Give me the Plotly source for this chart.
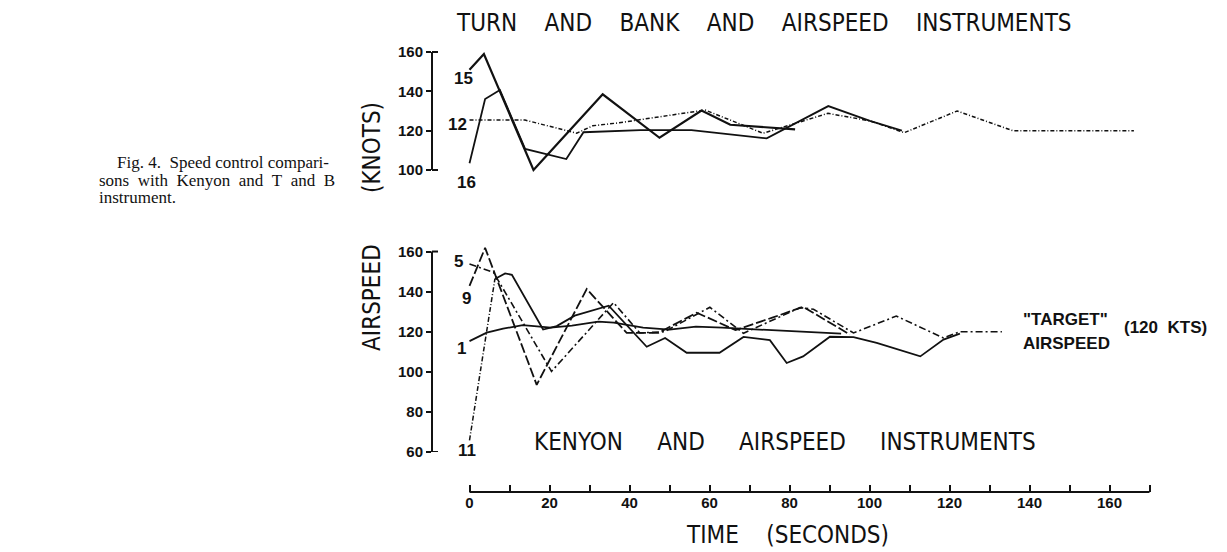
import plotly.graph_objects as go

# ---------------- data ----------------
# Top panel: Turn and Bank and airspeed instruments (time s, airspeed kts)
t15 = [0, 3.6, 16.0, 33.3, 47.5, 58.0, 65.2, 81.4]
v15 = [151, 159, 100, 138.5, 116.4, 130.2, 123, 120.7]

t16 = [0, 3.9, 7.6, 13.9, 24.2, 28.5, 42.7, 55.5, 74.3, 89.7, 100.1, 108.1]
v16 = [103.4, 136.1, 140.7, 110.7, 105.6, 119.2, 120.3, 120.3, 116.1, 132.5, 125, 120]

t12 = [0, 13.9, 26.8, 30.8, 37.4, 58.9, 73.4, 89.6, 100.1, 108.7, 121.9, 135.8, 166.1]
v12 = [125.4, 125.4, 118.7, 122.5, 124.0, 130.5, 118.7, 128.8, 125, 119, 130, 120, 120]

# Bottom panel: Kenyon and airspeed instruments
t5 = [0, 6.0, 20.5, 36.0, 42.6, 48.7, 60.1, 68.5, 82.6, 86.0, 96.0, 106.7, 118.5, 122.6, 133.1]
v5 = [153.8, 149.6, 100.2, 134.5, 119.4, 120, 132.2, 119.2, 132, 131.2, 119.4, 127.8, 116.9, 120, 120]

t9 = [0, 3.9, 16.8, 29.3, 39.3, 47.2, 56.8, 66.5, 75.7, 83.4, 95.1]
v9 = [142.9, 161.8, 93.5, 141.3, 119.4, 119.4, 129.5, 120.8, 127, 132.4, 118.6]

t1 = [0, 4.3, 8.4, 13.3, 17.6, 20.3, 25.6, 32.2, 36.1, 43.4, 50.0, 56.6, 63.2, 72.4, 81.7, 92.9]
v1 = [115.3, 119.5, 121.5, 123.3, 122.5, 122, 123, 125, 124.5, 122, 121, 122.5, 122, 121, 120, 119]

t11 = [0, 6.35, 8.9, 10.6, 12.6, 18.4, 21.8, 26.3, 34.8, 44.3, 48.9, 54.3, 62.5, 68.5, 75.1,
       79.3, 83.4, 90.1, 96.0, 101.8, 112.7, 118.5, 122.6]
v11 = [65.8, 146.3, 149.1, 148.4, 141.3, 121.1, 122.8, 128, 133, 112.5, 116.9, 109.5, 109.5,
       117.4, 115.8, 104.4, 107.7, 117.5, 117.3, 114.4, 107.7, 116.1, 119]

time_ticks = list(range(0, 171, 10))
time_labels = [str(v) if v % 20 == 0 else "" for v in time_ticks]
top_ticks = [100, 120, 140, 160]
bot_ticks = [60, 80, 100, 120, 140, 160]

# ---------------- layout helpers (targets given in screenshot pixels) ----------------
OFF = 8                            # default page body margin
FW, FH = 1219, 544
SL, SR, ST, SB = 432, 1211, 38, 492   # plot-area edges on screen
L, R, T, B = SL - OFF, FW - (SR - OFF), ST - OFF, FH - (SB - OFF)
PW, PH = FW - L - R, FH - T - B
X0PX, XSCALE = 469.5, 4.0          # screen pixel of t=0, px per second


def py(ys):
    return (SB - ys) / PH


def pxf(xs):
    return (xs - SL) / PW


xr = [(SL - X0PX) / XSCALE, (SR - X0PX) / XSCALE]
TOP_SC, BOT_SC = 1.967, 2.0        # px per knot
top_dom_px = (40, 190)
bot_dom_px = (240, 452)
top_range = [160 - (top_dom_px[1] - 52) / TOP_SC, 160 + (52 - top_dom_px[0]) / TOP_SC]
bot_range = [60, 160 + (251.5 - bot_dom_px[0]) / BOT_SC]

INK = "#111111"
TITLE_FONT = dict(family="DejaVu Sans Condensed, Liberation Sans Narrow, sans-serif", size=24, color=INK)
TICK_FONT = dict(family="Liberation Sans, Arial, sans-serif", size=15, color=INK, weight="bold")
LBL_FONT = dict(family="Liberation Sans, Arial, sans-serif", size=17, color=INK, weight="bold")
TGT_FONT = dict(family="Liberation Sans, Arial, sans-serif", size=17, color=INK, weight="bold")

fig = go.Figure()


def add(t, v, ax, dash, width):
    xa, ya = ("x2", "y2") if ax == "top" else ("x", "y")
    fig.add_trace(go.Scatter(x=t, y=v, xaxis=xa, yaxis=ya, mode="lines",
                             line=dict(color=INK, width=width, dash=dash),
                             hoverinfo="skip", showlegend=False))


add(t15, v15, "top", "solid", 2.2)
add(t16, v16, "top", "solid", 1.8)
add(t12, v12, "top", "4px,2px,1px,2px", 1.5)

add(t1, v1, "bot", "solid", 1.8)
add(t11[:2], v11[:2], "bot", "5px,2px,1px,2px", 1.5)
add(t11[1:], v11[1:], "bot", "solid", 1.8)
add(t9, v9, "bot", "10px,3px", 1.8)
add(t5, v5, "bot", "7px,3px,2px,3px", 1.6)

fig.update_layout(
    width=FW, height=FH, margin=dict(l=L, r=R, t=T, b=B),
    paper_bgcolor="white", plot_bgcolor="white", showlegend=False,
    xaxis=dict(range=xr, anchor="free", position=0, showline=False, showgrid=False,
               zeroline=False, ticks="inside", ticklen=7, tickwidth=1.5, tickcolor=INK,
               tickvals=time_ticks, ticktext=time_labels, tickfont=TICK_FONT),
    xaxis2=dict(range=xr, anchor="y2", matches="x", visible=False),
    yaxis=dict(domain=[py(bot_dom_px[1]), py(bot_dom_px[0])], range=bot_range, anchor="x",
               showline=False, showgrid=False, zeroline=False, ticks="outside", ticklen=5,
               tickwidth=2, tickcolor=INK, tickvals=bot_ticks, tickfont=TICK_FONT),
    yaxis2=dict(domain=[py(top_dom_px[1]), py(top_dom_px[0])], range=top_range, anchor="x2",
                showline=False, showgrid=False, zeroline=False, ticks="outside", ticklen=5,
                tickwidth=2, tickcolor=INK, tickvals=top_ticks, tickfont=TICK_FONT),
)

shapes = []
# y-axis spines with corner ends
for yref, lo, hi in (("y2", top_ticks[0], top_ticks[-1]), ("y", bot_ticks[0], bot_ticks[-1])):
    shapes.append(dict(type="line", xref="paper", yref=yref, x0=0, x1=0, y0=lo, y1=hi,
                       line=dict(color=INK, width=2)))
    for yy in (lo, hi):
        shapes.append(dict(type="line", xref="paper", yref=yref, x0=0, x1=pxf(SL + 6), y0=yy, y1=yy,
                           line=dict(color=INK, width=2)))
# time axis spine
shapes.append(dict(type="line", xref="x", yref="paper", x0=time_ticks[0], x1=time_ticks[-1],
                   y0=0, y1=0, line=dict(color=INK, width=2)))
fig.update_layout(shapes=shapes)

ann = []


def label(text, t, v, ax, xs, ys):
    ann.append(dict(text=text, x=t, y=v, xref="x2" if ax == "top" else "x",
                    yref="y2" if ax == "top" else "y", xshift=xs, yshift=ys,
                    xanchor="center", yanchor="middle", showarrow=False, font=LBL_FONT))


label("15", t15[0], v15[0], "top", -6, -9)
label("12", t12[0], v12[0], "top", -12, -4)
label("16", t16[0], v16[0], "top", -3, -19)
label("5", t5[0], v5[0], "bot", -11, 2)
label("9", t9[0], v9[0], "bot", -3, -13)
label("1", t1[0], v1[0], "bot", -8, -7)
label("11", t11[0], v11[0], "bot", -3, -10)


def text(s, xs, ys, font, xa="center", angle=0):
    ann.append(dict(text=s, x=pxf(xs), y=py(ys), xref="paper", yref="paper", xanchor=xa,
                    yanchor="middle", showarrow=False, textangle=angle, font=font))


NB = "\u00a0"
G = NB * 4
G5 = NB * 5
text(f"TURN{G}AND{G}BANK{G}AND{G}AIRSPEED{G}INSTRUMENTS", 764, 23, TITLE_FONT)
text(f"KENYON{G5}AND{G5}AIRSPEED{G5}INSTRUMENTS", 785, 442, TITLE_FONT)
text(f"TIME{G}(SECONDS)", 787, 535, TITLE_FONT)
text("(KNOTS)", 372, 148, TITLE_FONT, angle=-90)
text("AIRSPEED", 372, 298, TITLE_FONT, angle=-90)
text("\"TARGET\"", 1021, 319, TGT_FONT, xa="left")
text("AIRSPEED", 1021, 343, TGT_FONT, xa="left")
text(f"(120{NB*2}KTS)", 1122, 327, TGT_FONT, xa="left")

CAP = dict(family="Liberation Serif, Times New Roman, serif", size=17, color=INK)
text("Fig. 4.  Speed control compari-", 115, 162, CAP, xa="left")
text(f"sons{NB*2}with{NB*2}Kenyon{NB*2}and{NB*2}T{NB*2}and{NB*2}B", 97, 180, CAP, xa="left")
text("instrument.", 97, 198, CAP, xa="left")
fig.update_layout(annotations=ann)

fig.write_html("out.html")
